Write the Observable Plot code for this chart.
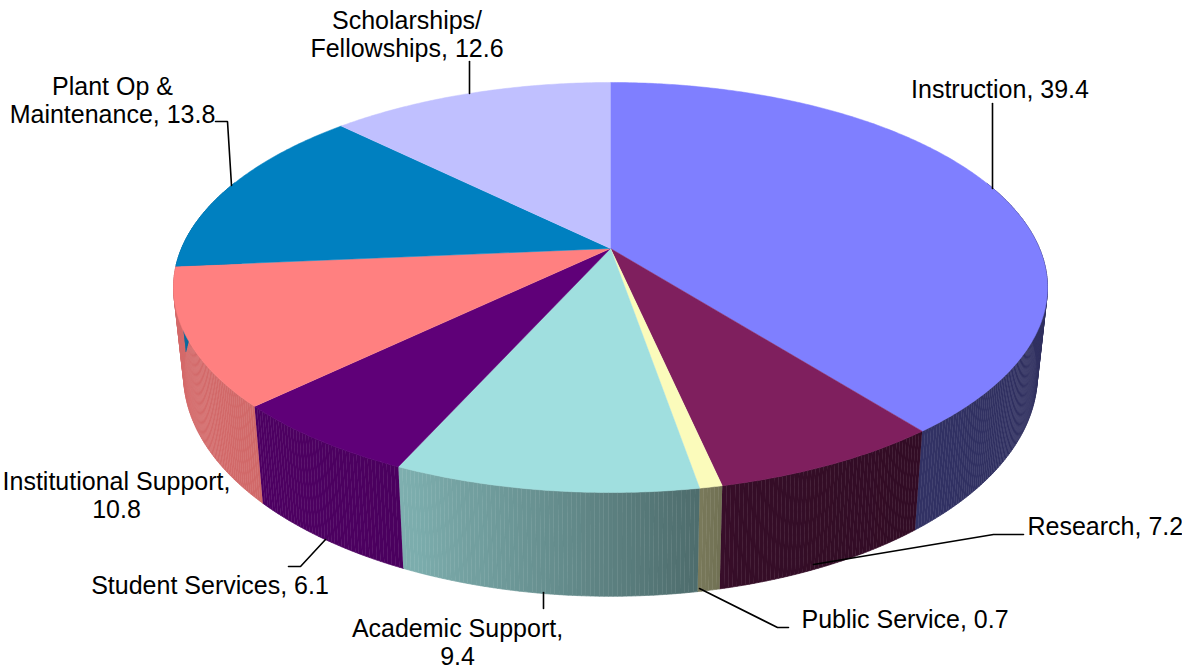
<!DOCTYPE html>
<html>
<head>
<meta charset="utf-8">
<script src="https://cdn.jsdelivr.net/npm/d3@7"></script>
<script src="https://cdn.jsdelivr.net/npm/@observablehq/plot@0.6"></script>
<style>html,body{margin:0;padding:0;background:#fff}</style>
</head>
<body>
<div id="chart"></div>
<script>
const categories = ["Instruction","Research","Public Service","Academic Support","Student Services","Institutional Support","Plant Op & Maintenance","Scholarships/ Fellowships"];
const values = [39.4,7.2,0.7,9.4,6.1,10.8,13.8,12.6];
const labelTexts = ["Instruction, 39.4","Research, 7.2","Public Service, 0.7","Academic Support,\n9.4","Student Services, 6.1","Institutional Support,\n10.8","Plant Op &\nMaintenance, 13.8","Scholarships/\nFellowships, 12.6"];
const sliceColors = ["#7f7fff","#7f1f5e","#fbfbbb","#a0dfdf","#5f0078","#ff8080","#0080c0","#c0c0ff"];

// layout (pixels), separate from the data
const labelX = [999.5,1027,801,457,209.5,116,112,406.5];
const labelY = [89,526,619,642,585,495,99.5,34];
const labelAnchor = ["middle","start","start","middle","middle","middle","middle","middle"];
const leaders = [
  [[992,103],[992,188]],
  [[1023,534],[993,534],[813,564]],
  [[788,627],[777,627],[699,588]],
  [[543,592],[543,608]],
  [[288,566],[300,566],[325,539]],
  [[215,121],[227,121],[231,185]],
  [[469,61],[469,93]]
];
const W = 1182, H = 666, CX = 610, CY = 248, RX = 429, RY = 197.6;
const PERSP = 0.1902, DEPTH = 84 / RY, TAPER = 0.977;

const shade = d3.scaleLinear().domain([-1,-0.5,0.2,0.3,1]).range([0.83,0.79,0.49,0.42,0.375]);
const rimTop = a => { const t = -Math.cos(a), w = 1 - PERSP * t; return {x: Math.sin(a) / w, y: t / w, w, t}; };
const rimBottom = p => ({x: p.x * TAPER, y: p.y + DEPTH / p.w});
const STEP = Math.PI / 360;

const topRows = [], wallRows = [];
let cum = 0;
const total = d3.sum(values);
values.forEach((v, i) => {
  const a0 = cum / total * 2 * Math.PI; cum += v;
  const a1 = cum / total * 2 * Math.PI;
  const n = Math.max(2, Math.ceil((a1 - a0) / STEP));
  const angles = d3.range(n + 1).map(k => a0 + (a1 - a0) * k / n);
  topRows.push({id: i, x: 0, y: 0, c: sliceColors[i]});
  angles.forEach(a => { const p = rimTop(a); topRows.push({id: i, x: p.x, y: p.y, c: sliceColors[i]}); });
  for (let k = 0; k < n; k++) {
    const p = rimTop(angles[k]), q = rimTop(angles[k + 1]);
    if (p.t < -0.35 && q.t < -0.35) continue;
    const rgb = d3.rgb(sliceColors[i]), b = shade((p.x + q.x) / 2);
    const c = d3.rgb(rgb.r * b, rgb.g * b, rgb.b * b).formatHex();
    const pb = rimBottom(p), qb = rimBottom(q), id = i + "-" + k;
    [p, q, qb, pb].forEach(u => wallRows.push({id, x: u.x, y: u.y, c}));
  }
});

const toX = px => (px - CX) / RX, toY = py => (py - CY) / RY;
const leaderRows = leaders.flatMap((l, i) => l.map(([px, py]) => ({id: i, x: toX(px), y: toY(py)})));
const labelRows = labelTexts.map((text, i) => ({text, x: toX(labelX[i]), y: toY(labelY[i]), anchor: labelAnchor[i]}));

const textOpts = {x: "x", y: "y", text: "text", fill: "black", fontSize: 25, lineHeight: 1.12, lineAnchor: "middle", fontFamily: "Liberation Sans, Arial, sans-serif"};

const chart = Plot.plot({
  width: W, height: H, margin: 0,
  style: {background: "#fff"},
  x: {domain: [toX(0), toX(W)], range: [0, W], axis: null},
  y: {domain: [toY(0), toY(H)], range: [0, H], axis: null},
  color: {type: "identity"},
  marks: [
    Plot.line(wallRows, {x: "x", y: "y", z: "id", fill: "c", stroke: "c", strokeWidth: 0.7}),
    Plot.line(topRows, {x: "x", y: "y", z: "id", fill: "c", stroke: "c", strokeWidth: 0.5}),
    Plot.line(leaderRows, {x: "x", y: "y", z: "id", stroke: "black", strokeWidth: 1.6, strokeLinejoin: "miter"}),
    Plot.text(labelRows.filter(d => d.anchor === "middle"), {...textOpts, textAnchor: "middle"}),
    Plot.text(labelRows.filter(d => d.anchor === "start"), {...textOpts, textAnchor: "start"})
  ]
});
document.getElementById("chart").appendChild(chart);
</script>
</body>
</html>
